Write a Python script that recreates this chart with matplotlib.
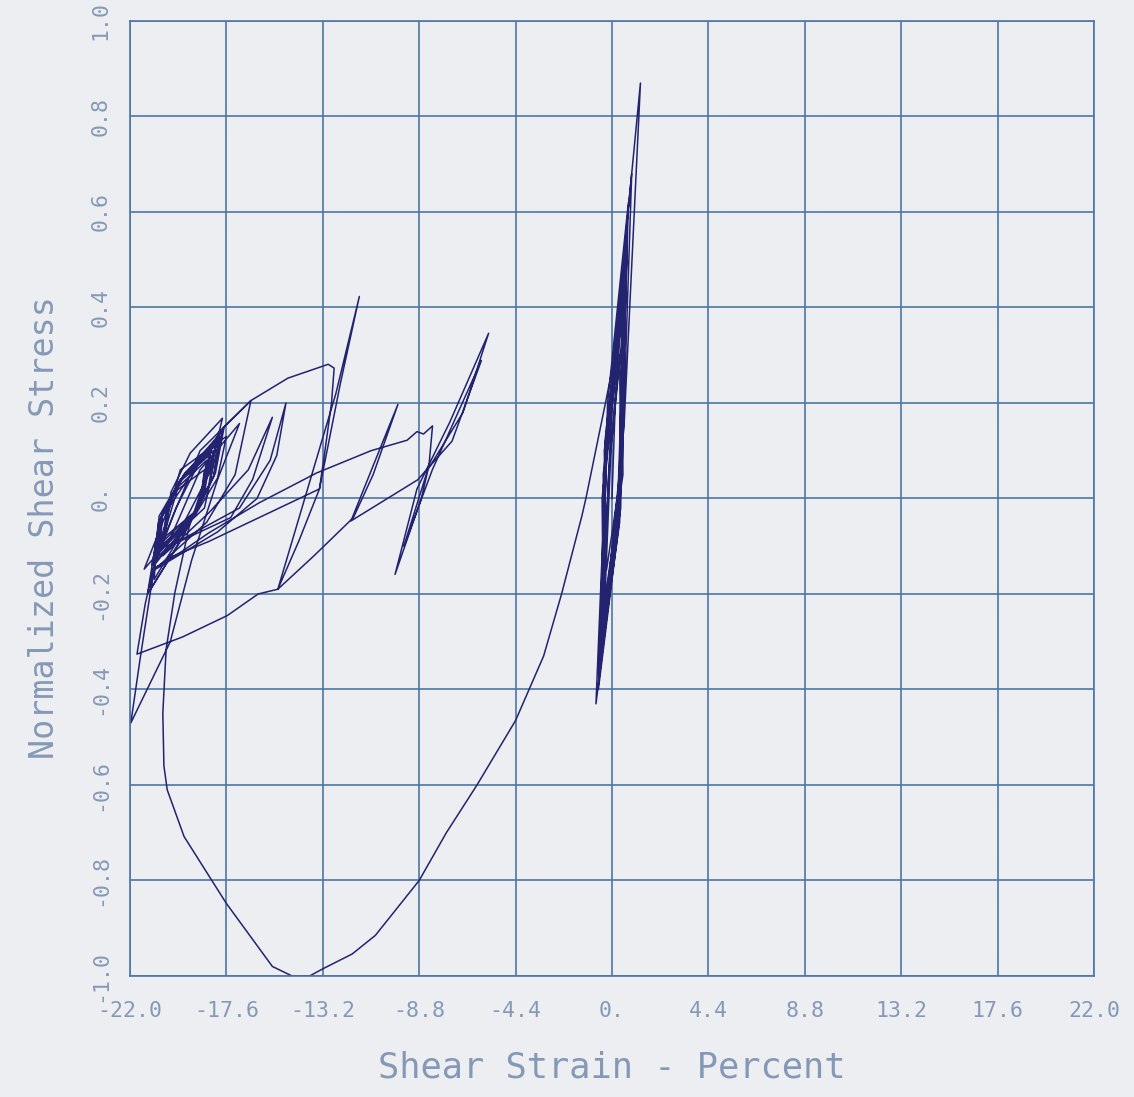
import matplotlib.pyplot as plt
import numpy as np

# stress-strain trace, read as turning points (strain in %, normalized stress)
# small cycles around zero strain
spike_x = [0.00, 0.15, 0.35, 0.40, -0.25, -0.35, 0.45, 0.50, -0.35, -0.32, 0.55, 0.45,
           -0.30, -0.40, 0.50, 0.40, -0.42, -0.25, 0.62, 0.38, -0.38, -0.45, 0.58, 0.45,
           -0.48, -0.20, 0.75, 0.40, -0.45, -0.35, 0.70, 0.35, -0.55, 0.10, 1.30, 0.55,
           -0.60, -0.30, 0.68, 0.30, -0.73, -0.30, 0.60, 0.25, -0.50, -0.15, 0.55, 0.40,
           -0.40, -0.40, 0.48, 0.30, -0.62, -0.20, 0.90, 0.45, -0.35, -0.05, 0.64]
spike_y = [0.00, 0.20, 0.30, 0.05, -0.15, 0.10, 0.38, 0.05, -0.22, 0.12, 0.45, 0.05,
           -0.25, 0.05, 0.42, -0.02, -0.28, 0.15, 0.50, 0.00, -0.30, 0.00, 0.48, 0.05,
           -0.32, 0.20, 0.62, 0.05, -0.30, 0.05, 0.55, -0.05, -0.35, 0.30, 0.87, 0.15,
           -0.38, 0.10, 0.52, -0.05, -0.43, 0.05, 0.46, -0.03, -0.33, 0.05, 0.44, 0.02,
           -0.27, 0.02, 0.40, -0.06, -0.40, 0.15, 0.68, 0.05, -0.24, 0.10, 0.42]

# large excursion to negative strain
fall_x = [-0.23, -1.19, -1.37, -2.30, -3.12, -4.40, -6.16, -7.56, -8.80, -10.80, -11.86,
          -13.20, -13.80, -14.60, -15.50, -17.60, -19.53, -20.30, -20.45, -20.50, -20.35, -19.95]
fall_y = [0.215, 0.00, -0.036, -0.20, -0.33, -0.465, -0.60, -0.70, -0.80, -0.915, -0.954,
          -0.985, -1.00, -1.00, -0.98, -0.848, -0.708, -0.61, -0.56, -0.45, -0.316, -0.197]

# cycles bunched around -19 % strain
cluster_x = [-19.30, -18.00,
             -19.60, -20.60, -21.00, -19.50, -18.60, -18.30,
             -19.73, -20.57, -20.80, -19.20, -18.20, -17.80,
             -19.53, -20.67, -21.20, -19.70, -18.80, -18.50,
             -19.90, -20.70, -20.90, -19.37, -18.43, -18.10,
             -19.50, -20.30, -20.50, -19.03, -18.17, -17.90,
             -19.57, -20.63, -21.05, -19.60, -18.70, -18.40,
             -19.77, -20.53, -20.70, -19.10, -18.10, -17.70,
             -19.00, -20.25, -21.35, -19.56, -18.37, -17.78,
             -19.25, -20.13, -20.40, -19.07, -18.33, -18.20,
             -19.73, -20.67, -20.90, -19.60, -18.80, -18.60,
             -19.87, -20.53, -20.60, -19.00, -18.00, -17.60,
             -19.70, -20.84, -21.54, -21.96, -20.16, -19.19, -18.00, -17.00,
             -18.80, -20.50, -18.40, -16.60, -15.50, -16.40, -17.40, -20.20,
             -17.00, -15.60, -14.88, -15.30, -16.20, -18.00, -20.90,
             -18.50, -17.20, -16.48, -18.80, -20.70, -18.60, -17.90, -19.70, -20.80]
cluster_y = [-0.06, 0.12,
             0.043, -0.043, -0.14, -0.07, 0.01, 0.10,
             0.037, -0.037, -0.12, -0.043, 0.043, 0.14,
             0.05, -0.05, -0.20, -0.09, -0.01, 0.08,
             0.02, -0.05, -0.13, -0.06, 0.02, 0.11,
             0.053, -0.013, -0.09, -0.027, 0.047, 0.13,
             0.047, -0.047, -0.19, -0.08, 0.00, 0.09,
             0.033, -0.033, -0.11, -0.033, 0.053, 0.15,
             0.065, -0.02, -0.148, -0.053, 0.053, 0.168,
             0.095, 0.013, -0.08, -0.03, 0.03, 0.10,
             0.037, -0.037, -0.17, -0.07, -0.01, 0.06,
             0.017, -0.037, -0.10, -0.033, 0.043, 0.13,
             0.06, -0.128, -0.337, -0.47, -0.30, -0.13, 0.04, 0.157,
             0.06, -0.12, -0.03, 0.06, 0.17, 0.04, -0.04, -0.10,
             -0.02, 0.08, 0.20, 0.09, 0.00, -0.07, -0.15,
             -0.05, 0.05, 0.205, 0.10, -0.11, -0.02, 0.13, 0.04, -0.13]

# arch over the cluster and the tall cycle near -13 %
arch_x = [-19.90, -18.90, -17.70, -16.48, -14.79, -12.95, -12.68, -12.80, -13.10, -13.35,
          -14.30, -15.25, -13.70, -12.60, -11.53, -12.40, -13.35, -16.10, -18.40, -20.00,
          -21.00, -19.60, -18.40]
arch_y = [-0.02, 0.07, 0.15, 0.205, 0.252, 0.281, 0.273, 0.20, 0.10, 0.02,
          -0.09, -0.19, 0.05, 0.22, 0.423, 0.24, 0.02, -0.04, -0.09, -0.12,
          -0.15, -0.11, -0.072]

# reach over to -8 % and the loops there
reach_x = [-16.10, -13.50, -11.00, -9.35, -8.90, -8.60, -8.19, -8.35, -8.70, -9.90, -8.90,
           -7.40, -5.63, -6.80, -8.41, -9.50, -8.20, -5.96, -7.30, -8.87]
reach_y = [-0.009, 0.053, 0.10, 0.122, 0.14, 0.135, 0.152, 0.07, 0.00, -0.159, 0.02,
           0.16, 0.346, 0.18, 0.06, -0.10, 0.06, 0.289, 0.12, 0.039]

# narrow loop near -10 % and the long run back to the left edge
back_x = [-11.91, -10.80, -9.77, -10.90, -11.80, -13.60, -15.25, -16.15, -17.55, -19.60,
          -21.68, -21.30, -20.90, -19.00, -18.20]
back_y = [-0.047, 0.08, 0.197, 0.05, -0.04, -0.12, -0.19, -0.20, -0.245, -0.29,
          -0.326, -0.22, -0.14, -0.03, 0.09]

x_ticks = [-22.0, -17.6, -13.2, -8.8, -4.4, 0.0, 4.4, 8.8, 13.2, 17.6, 22.0]
x_labels = ["-22.0", "-17.6", "-13.2", "-8.8", "-4.4", "0.", "4.4", "8.8", "13.2", "17.6", "22.0"]
y_ticks = [-1.0, -0.8, -0.6, -0.4, -0.2, 0.0, 0.2, 0.4, 0.6, 0.8, 1.0]
y_labels = ["-1.0", "-0.8", "-0.6", "-0.4", "-0.2", "0.", "0.2", "0.4", "0.6", "0.8", "1.0"]

strain = np.concatenate([spike_x, fall_x, cluster_x, arch_x, reach_x, back_x])
stress = np.concatenate([spike_y, fall_y, cluster_y, arch_y, reach_y, back_y])

paper = "#eceef2"
grid_col = "#4f76a3"
text_col = "#8599b6"
ink = "#23236f"

plt.rcParams['font.family'] = ['DejaVu Sans Mono']

fig = plt.figure(figsize=(11.34, 10.97), dpi=100)
fig.patch.set_facecolor(paper)
ax = fig.add_axes([0.1146, 0.1103, 0.8501, 0.8706])
ax.set_facecolor(paper)

ax.plot(strain, stress, color=ink, lw=1.1, solid_joinstyle="round")

ax.set_xlim(-22, 22)
ax.set_ylim(-1, 1)
ax.set_xticks(x_ticks)
ax.set_xticklabels(x_labels)
ax.set_yticks(y_ticks)
ax.set_yticklabels(y_labels, rotation=90, va="center")
ax.tick_params(length=0, labelsize=15.5, labelcolor=text_col)
ax.tick_params(axis="x", pad=18)
ax.tick_params(axis="y", pad=14)
ax.grid(True, color=grid_col, lw=1.2)
ax.set_axisbelow(True)
for s in ax.spines.values():
    s.set_color(grid_col)
    s.set_linewidth(1.2)

fig.text(612 / 1134, 1 - 1068 / 1097, "Shear Strain - Percent", color=text_col,
         fontsize=25.5, ha="center", va="center")
fig.text(45 / 1134, 1 - 528 / 1097, "Normalized Shear Stress", color=text_col,
         fontsize=24, ha="center", va="center", rotation=90)

fig.savefig("out.png", dpi=100, facecolor=paper)
